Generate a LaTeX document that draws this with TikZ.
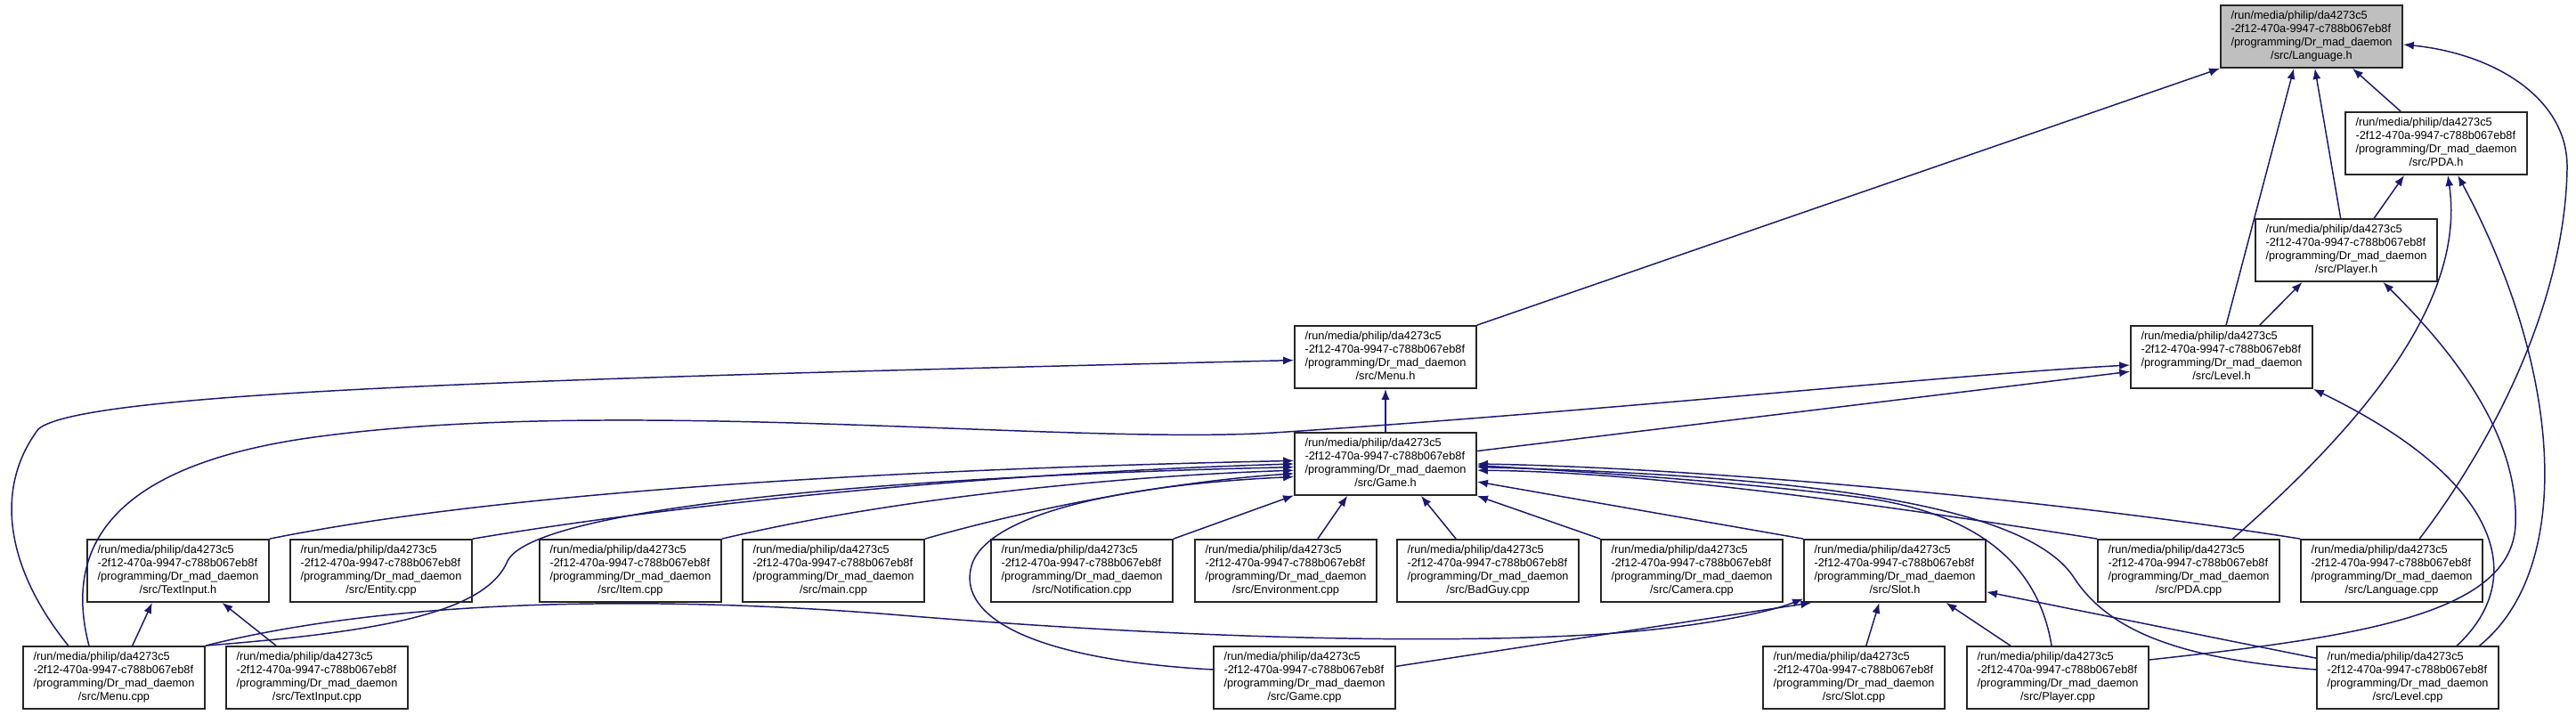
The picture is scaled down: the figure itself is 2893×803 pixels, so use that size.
\documentclass[tikz,border=0pt]{standalone}
\usepackage{fontspec}
\usetikzlibrary{arrows.meta}
\newfontfamily\dxfont{Liberation Sans}
\definecolor{Edge}{HTML}{191970}
\definecolor{Focus}{HTML}{BFBFBF}
\newcommand{\srcfile}[1]{\begin{tabular}{@{}l@{}}/run/media/philip/da4273c5\\-2f12-470a-9947-c788b067eb8f\\/programming/Dr\_mad\_daemon\\\multicolumn{1}{@{}c@{}}{/src/#1}\end{tabular}}

\begin{document}
\begin{tikzpicture}[x=0.01cm,y=-0.01cm,
  file/.style={draw=black!85,line width=0.5pt,fill=white,minimum width=2.04cm,minimum height=0.70cm,inner sep=0pt,font=\dxfont\fontsize{3.63pt}{4.25pt}\selectfont},
  focus/.style={file,fill=Focus},
  dep/.style={-{Latex[length=3.4pt,width=2.6pt]},line width=0.42pt,color=Edge}
]
\useasboundingbox (0,0) rectangle (2893,803);

\node[focus] (langh) at (2596,41) {\srcfile{Language.h}};
\node[file] (pdah) at (2736,161) {\srcfile{PDA.h}};
\node[file] (playerh) at (2635,281) {\srcfile{Player.h}};
\node[file] (menuh) at (1556,401) {\srcfile{Menu.h}};
\node[file] (levelh) at (2495,401) {\srcfile{Level.h}};
\node[file] (gameh) at (1556,521) {\srcfile{Game.h}};
\foreach \n/\x/\f in {txth/200/TextInput.h,entitycpp/428/Entity.cpp,itemcpp/708/Item.cpp,maincpp/936/main.cpp,notifcpp/1215/Notification.cpp,envcpp/1444/Environment.cpp,badguycpp/1671/BadGuy.cpp,cameracpp/1900/Camera.cpp,sloth/2128/Slot.h,pdacpp/2458/PDA.cpp,langcpp/2686/Language.cpp}
  \node[file] (\n) at (\x,641) {\srcfile{\f}};
\foreach \n/\x/\f in {menucpp/128/Menu.cpp,txtcpp/356/TextInput.cpp,gamecpp/1465/Game.cpp,slotcpp/2082/Slot.cpp,playercpp/2311/Player.cpp,levelcpp/2704/Level.cpp}
  \node[file] (\n) at (\x,761) {\srcfile{\f}};

% Language.h
\draw[dep] (menuh.north east) -- (langh.south west);
\draw[dep] (levelh.82) -- (langh.241.5);
\draw[dep] (playerh.100) -- (langh.276.5);
\draw[dep] (pdah.138) -- (langh.322);
\draw[dep] (langcpp.49) .. controls (2790,510) and (2880,350) .. (2883,190) .. controls (2885,110) and (2800,60) .. (langh.-5);
% PDA.h, Player.h, Level.h
\draw[dep] (playerh.49) -- (pdah.225);
\draw[dep] (pdacpp.36) .. controls (2650,480) and (2770,340) .. (pdah.290.4);
\draw[dep] (levelcpp.24) .. controls (2890,640) and (2880,420) .. (pdah.304.4);
\draw[dep] (levelh.40.5) -- (playerh.216.7);
\draw[dep] (playercpp.11.6) .. controls (2650,715) and (2820,690) .. (2825,590) .. controls (2830,480) and (2740,380) .. (playerh.319.5);
\draw[dep] (gameh.8) -- (levelh.189);
\draw[dep] (menucpp.128.7) .. controls (70,610) and (130,520) .. (360,490) .. controls (700,445) and (1200,500) .. (1430,486) .. controls (1800,462) and (2200,420) .. (levelh.185);
\draw[dep] (levelcpp.33) .. controls (2840,650) and (2810,540) .. (levelh.south east);
% Menu.h
\draw[dep] (gameh.north) -- (menuh.south);
\draw[dep] (menucpp.145.5) .. controls (8,640) and (-8,550) .. (43,482) .. controls (90,440) and (600,425) .. (menuh.182);
% Game.h
\draw[dep] (txth.north east) .. controls (600,545) and (1100,525) .. (gameh.178);
\draw[dep] (entitycpp.north east) .. controls (800,560) and (1150,530) .. (gameh.180.5);
\draw[dep] (menucpp.north east) .. controls (420,710) and (545,690) .. (570,630) .. controls (600,570) and (1000,535) .. (gameh.182);
\draw[dep] (itemcpp.north east) .. controls (1000,560) and (1250,535) .. (gameh.184);
\draw[dep] (maincpp.north east) .. controls (1180,565) and (1330,540) .. (gameh.186);
\draw[dep] (gamecpp.175) .. controls (1150,740) and (1080,690) .. (1090,640) .. controls (1100,580) and (1250,545) .. (gameh.188);
\draw[dep] (notifcpp.north east) -- (gameh.199.3);
\draw[dep] (envcpp.45.8) -- (gameh.220.5);
\draw[dep] (badguycpp.135.8) -- (gameh.318);
\draw[dep] (cameracpp.north west) -- (gameh.south east);
\draw[dep] (sloth.north west) -- (gameh.349.5);
\draw[dep] (pdacpp.north west) .. controls (2100,565) and (1850,530) .. (gameh.-4);
\draw[dep] (langcpp.north west) .. controls (2300,560) and (1900,525) .. (gameh.-0.5);
\draw[dep] (playercpp.101.3) .. controls (2290,640) and (2230,580) .. (2100,560) .. controls (1950,540) and (1750,528) .. (gameh.-1);
\draw[dep] (levelcpp.175.5) .. controls (2450,740) and (2370,710) .. (2330,650) .. controls (2280,570) and (2050,535) .. (gameh.-2);
% TextInput.h, Slot.h
\draw[dep] (menucpp.60.3) -- (txth.231.3);
\draw[dep] (txtcpp.142.1) -- (txth.324.5);
\draw[dep] (menucpp.north east) .. controls (450,670) and (750,670) .. (1000,690) .. controls (1300,715) and (1600,725) .. (1800,712) .. controls (1900,705) and (1980,690) .. (sloth.197);
\draw[dep] (gamecpp.7) -- (sloth.201);
\draw[dep] (slotcpp.69.6) -- (sloth.244.1);
\draw[dep] (playercpp.146) -- (sloth.328);
\draw[dep] (levelcpp.168.4) -- (sloth.347.8);
\end{tikzpicture}
\end{document}
